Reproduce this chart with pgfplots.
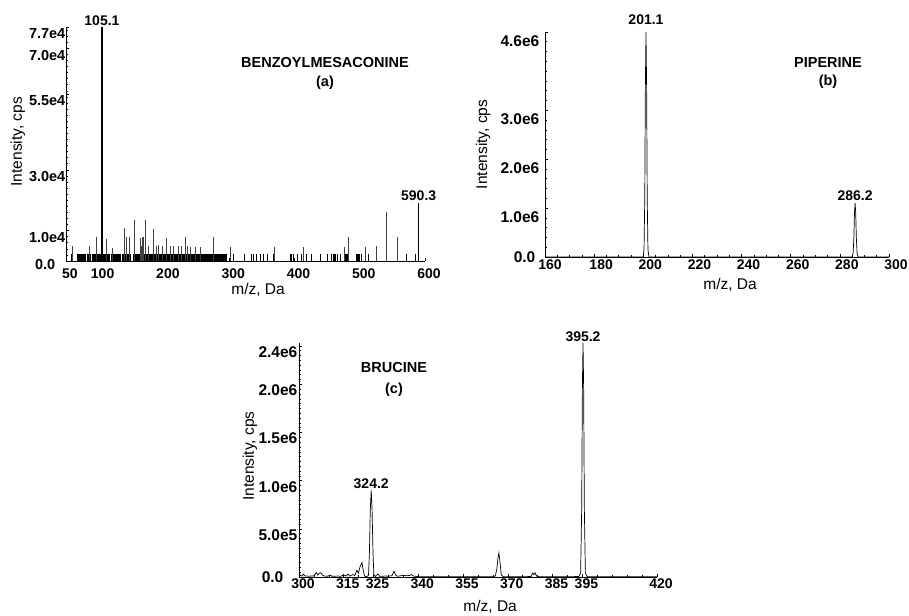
\documentclass[border=0pt]{standalone}
\usepackage{fontspec}
\setmainfont{Liberation Sans}
\usepackage{pgfplots}
\pgfplotsset{compat=1.18}
\pgfplotsset{
  ms/.style={
    scale only axis, anchor=south west,
    axis lines=left, axis line style={-, line width=0.9bp, black},
    tick align=inside,
    major tick length=3bp, minor tick length=2bp,
    tick style={black, line width=0.6bp},
    /pgf/number format/assume math mode=true,
    scaled ticks=false,
    ticklabel style={font=\fontsize{14bp}{16bp}\selectfont\bfseries},
    label style={font=\fontsize{15.5bp}{18bp}\selectfont},
    xlabel={m/z, Da}, ylabel={Intensity, cps},
    clip=false,
  },
  pk/.style={black, line width=0.7bp, no marks},
  cb/.style={black, ycomb, no marks, line width=0.75bp},
  sp/.style={black!75, ycomb, no marks, line width=0.5bp},
}
\newcommand{\tf}{\fontsize{14.5bp}{17bp}\selectfont\bfseries}
\newcommand{\pf}{\fontsize{14bp}{16bp}\selectfont\bfseries}
\begin{document}
\begin{tikzpicture}
\path[use as bounding box] (0,0) rectangle (909bp,-616bp);

% ---------------- (a) ----------------
\begin{axis}[ms, at={(66bp,-261bp)}, width=359bp, height=234bp,
  xmin=50, xmax=600, ymin=0, ymax=77,
  xtick={50,100,200,300,400,500,600},
  xticklabels={50,100,200,300,400,500,600},
  ytick={0,10,30,55,70,77},
  yticklabels={\raisebox{8bp}{0.0}\kern10bp,1.0e4,3.0e4,5.5e4,7.0e4,7.7e4},
  minor ytick={2,4,...,76},
  xticklabel style={xshift=4bp, yshift=-7bp, inner sep=1bp},
  yticklabel style={yshift=-7bp, inner sep=0.5bp, font=\fontsize{14.5bp}{16bp}\selectfont\bfseries},
  xlabel style={at={(axis description cs:0.535,-0.124)}, anchor=center},
  ylabel style={at={(axis description cs:-0.134,0.51)}, anchor=center},
]
% baseline noise (thousands of cps)
\addplot[cb] table[row sep=\\] {x y\\
58 2.3\\68 2.3\\69 2.3\\70 2.3\\71 2.3\\72 2.3\\73 2.3\\74 2.3\\75 2.3\\76 2.3\\77 2.3\\78 2.3\\79 2.3\\
82 2.3\\84 2.3\\85 2.3\\87 2.3\\
90 2.3\\91 2.3\\92 2.3\\93 2.3\\94 2.3\\95 2.3\\96 2.3\\97 2.3\\98 2.3\\99 2.3\\100 2.3\\101 2.3\\102 2.3\\
107 2.3\\108 2.3\\109 2.3\\110 2.3\\111 2.3\\112 2.3\\113 2.3\\114 2.3\\115 2.3\\116 2.3\\117 2.3\\119 2.3\\120 2.3\\
121 2.3\\122 2.3\\123 2.3\\124 2.3\\125 2.3\\127 2.3\\128 2.3\\129 2.3\\130 2.3\\131 2.3\\132 2.3\\133 2.3\\
136 2.3\\137 2.3\\138 2.3\\139 2.3\\140 2.3\\141 2.3\\142 2.3\\143 2.3\\144 2.3\\145 2.3\\146 2.3\\147 2.3\\148 2.3\\
153 2.3\\154 2.3\\155 2.3\\156 2.3\\157 2.3\\158 2.3\\159 2.3\\160 2.3\\161 2.3\\162 2.3\\163 2.3\\164 2.3\\
165 2.3\\166 2.3\\167 2.3\\168 2.3\\169 2.3\\170 2.3\\171 2.3\\172 2.3\\173 2.3\\174 2.3\\175 2.3\\176 2.3\\
177 2.3\\178 2.3\\179 2.3\\180 2.3\\181 2.3\\182 2.3\\183 2.3\\184 2.3\\185 2.3\\186 2.3\\187 2.3\\188 2.3\\
189 2.3\\190 2.3\\191 2.3\\192 2.3\\193 2.3\\194 2.3\\195 2.3\\196 2.3\\197 2.3\\198 2.3\\199 2.3\\200 2.3\\
201 2.3\\202 2.3\\203 2.3\\204 2.3\\205 2.3\\206 2.3\\207 2.3\\208 2.3\\209 2.3\\210 2.3\\211 2.3\\212 2.3\\
213 2.3\\214 2.3\\215 2.3\\216 2.3\\217 2.3\\218 2.3\\219 2.3\\220 2.3\\221 2.3\\222 2.3\\223 2.3\\224 2.3\\
225 2.3\\226 2.3\\227 2.3\\228 2.3\\229 2.3\\230 2.3\\231 2.3\\232 2.3\\233 2.3\\234 2.3\\235 2.3\\236 2.3\\
237 2.3\\238 2.3\\239 2.3\\242 2.3\\243 2.3\\244 2.3\\245 2.3\\246 2.3\\247 2.3\\248 2.3\\249 2.3\\250 2.3\\
251 2.3\\252 2.3\\253 2.3\\254 2.3\\255 2.3\\256 2.3\\257 2.3\\259 2.3\\260 2.3\\261 2.3\\262 2.3\\263 2.3\\
264 2.3\\265 2.3\\266 2.3\\267 2.3\\268 2.3\\269 2.3\\271 2.3\\272 2.3\\273 2.3\\274 2.3\\275 2.3\\276 2.3\\
277 2.3\\278 2.3\\279 2.3\\280 2.3\\282 2.3\\283 2.3\\284 2.3\\285 2.3\\286 2.3\\287 2.3\\288 2.3\\289 2.3\\
291 2.3\\292 2.3\\293 2.3\\294 2.3\\295 2.3\\296 2.3\\
306 2.3\\324 2.3\\334 2.3\\337 2.3\\341 2.3\\348 2.3\\352 2.3\\358 2.3\\367 2.3\\
393 2.3\\396 2.3\\398 2.3\\405 2.3\\411 2.3\\419 2.3\\426 2.3\\439 2.3\\451 2.3\\
457 2.3\\459 2.3\\461 2.3\\463 2.3\\465 2.3\\470 2.3\\477 2.3\\478 2.3\\479 2.3\\480 2.3\\481 2.3\\482 2.3\\
495 2.3\\496 2.3\\497 2.3\\498 2.3\\499 2.3\\500 2.3\\503 2.3\\508 2.3\\513 2.3\\526 2.3\\558 2.3\\572 2.3\\586 2.3\\
};
% taller fragment spikes
\addplot[sp] table[row sep=\\] {x y\\
60 4.9\\85 4.9\\96 7.9\\111 7.2\\121 4.3\\139 10.8\\142 7.9\\147 7.9\\154 13.5\\163 7.5\\
165 5.0\\167 7.9\\169 7.9\\172 13.5\\176 5.0\\183 10.5\\188 5.0\\192 5.3\\197 5.0\\204 7.5\\
210 5.0\\214 4.9\\222 4.9\\226 5.0\\232 7.9\\235 5.0\\240 4.6\\248 4.6\\255 4.6\\275 7.9\\
301 4.6\\369 4.6\\413 4.6\\477 4.6\\482 7.9\\508 4.6\\526 4.9\\540 16.1\\558 7.9\\
};
\addplot[black, ycomb, no marks, line width=1.4bp] table[row sep=\\] {x y\\
105.1 77\\590.3 19.2\\
};
\node[font=\pf, anchor=south, inner sep=1.5bp] at (axis cs:105.1,77) {105.1};
\node[font=\pf, anchor=south, inner sep=2bp] at (axis cs:590.3,19.2) {590.3};
\end{axis}

% ---------------- (b) ----------------
\begin{axis}[ms, at={(545bp,-257bp)}, width=344bp, height=225bp,
  xmin=160, xmax=300, ymin=0, ymax=4.6,
  xtick={160,180,...,300},
  xticklabels={\kern-4bp 160,180,200,220,240,260,280,300},
  minor xtick={165,170,...,295},
  ytick={0,1,2,3,4.6},
  yticklabels={\raisebox{18bp}{0.0}\kern4bp,1.0e6,2.0e6,3.0e6,4.6e6},
  minor ytick={0.2,0.4,...,4.4},
  xticklabel style={xshift=7bp, inner sep=3bp},
  yticklabel style={yshift=-9bp, xshift=-5bp, inner sep=0.5bp, font=\fontsize{15.5bp}{17bp}\selectfont\bfseries},
  xlabel style={at={(axis description cs:0.538,-0.124)}, anchor=center},
  ylabel style={at={(axis description cs:-0.18,0.50)}, anchor=center},
]
\addplot[pk] table[row sep=\\] {x y\\
160 0\\199.9 0\\200.3 0.15\\200.6 1.2\\200.85 3.5\\201.1 4.6\\201.35 3.5\\201.6 1.2\\201.9 0.15\\202.3 0\\
285.0 0\\285.4 0.08\\285.7 0.4\\285.95 0.9\\286.2 1.1\\286.45 0.9\\286.7 0.4\\287.0 0.08\\287.4 0\\300 0\\
};
\node[font=\pf, anchor=south, inner sep=7bp] at (axis cs:201.1,4.6) {201.1};
\node[font=\pf, anchor=south, inner sep=2bp] at (axis cs:286.2,1.1) {286.2};
\end{axis}

% ---------------- (c) ----------------
\begin{axis}[ms, at={(299bp,-577bp)}, width=358bp, height=234bp,
  xmin=300, xmax=420, ymin=0, ymax=2.43,
  xtick={300,315,325,340,355,370,385,395,420},
  xticklabels={300,315,325,340,355,370,385,395,420},
  minor xtick={305,310,...,415},
  ytick={0,0.5,1,1.5,2,2.4},
  yticklabels={\raisebox{12bp}{0.0}\kern14bp,5.0e5,1.0e6,1.5e6,2.0e6,2.4e6},
  minor ytick={0.05,0.1,...,2.4},
  xticklabel style={xshift=4bp, inner sep=2bp},
  yticklabel style={yshift=-6bp, inner sep=1.5bp, font=\fontsize{15.5bp}{17bp}\selectfont\bfseries},
  xlabel style={at={(axis description cs:0.534,-0.128)}, anchor=center},
  ylabel style={at={(axis description cs:-0.137,0.517)}, anchor=center},
]
\addplot[pk] table[row sep=\\] {x y\\
300.0 0.04\\300.5 0.015\\301.0 0.01\\301.5 0.03\\302.0 0.01\\302.5 0.012\\303.0 0.008\\304.0 0.01\\
305.0 0.012\\305.8 0.045\\306.3 0.02\\306.8 0.04\\307.3 0.045\\307.8 0.02\\308.5 0.01\\309.5 0.008\\
310.5 0.02\\311.0 0.008\\312.0 0.008\\313.0 0.01\\314.0 0.008\\315.0 0.02\\315.6 0.01\\316.5 0.03\\
317.0 0.01\\318.0 0.025\\318.7 0.015\\319.4 0.07\\319.9 0.04\\320.5 0.11\\321.1 0.15\\321.6 0.06\\
322.0 0.01\\322.6 0.0\\323.3 0.02\\323.6 0.25\\323.9 0.7\\324.2 0.9\\324.5 0.7\\324.8 0.25\\325.1 0.02\\
325.6 0.005\\326.0 0.02\\326.5 0.03\\327.0 0.008\\328.0 0.008\\329.0 0.01\\330.0 0.008\\331.2 0.015\\
331.8 0.06\\332.4 0.02\\333.0 0.008\\334.0 0.012\\334.5 0.02\\335.0 0.015\\336.0 0.018\\337.0 0.015\\
337.6 0.025\\338.3 0.01\\339.0 0.008\\340.0 0.003\\345.0 0.003\\350.0 0.003\\355.0 0.003\\360.0 0.003\\
365.0 0.003\\365.8 0.01\\366.3 0.08\\366.7 0.2\\367.0 0.25\\367.4 0.15\\367.8 0.02\\368.5 0.003\\
375.0 0.003\\377.8 0.005\\378.3 0.04\\378.7 0.025\\379.1 0.045\\379.6 0.01\\380.5 0.003\\390.0 0.003\\
393.8 0.005\\394.4 0.04\\394.75 0.7\\395.0 2.0\\395.2 2.43\\395.4 2.0\\395.65 0.7\\396.0 0.04\\
396.6 0.003\\405.0 0.003\\420.0 0.003\\
};
\node[font=\pf, anchor=south, inner sep=1bp] at (axis cs:395.2,2.43) {395.2};
\node[font=\pf, anchor=south, inner sep=1.5bp] at (axis cs:324.2,0.9) {324.2};
\end{axis}

% titles
\node[font=\tf] at (325bp,-63bp) {BENZOYLMESACONINE};
\node[font=\tf] at (325bp,-83bp) {(a)};
\node[font=\tf] at (828bp,-63bp) {PIPERINE};
\node[font=\tf] at (828bp,-82bp) {(b)};
\node[font=\tf] at (394bp,-368bp) {BRUCINE};
\node[font=\tf] at (394bp,-390bp) {(c)};
\end{tikzpicture}
\end{document}
